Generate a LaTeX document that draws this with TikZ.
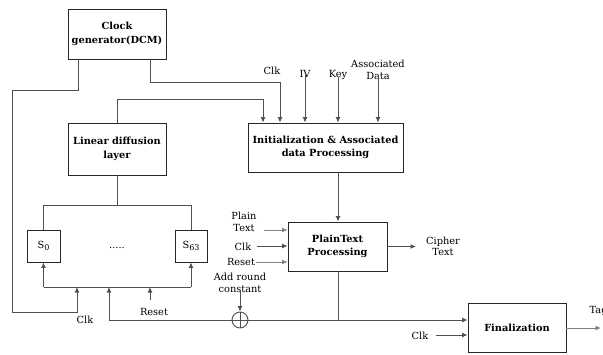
\documentclass[tikz,border=0pt]{standalone}
\usepackage{fontspec}
\setmainfont{DejaVu Serif}
\usetikzlibrary{arrows.meta}
\definecolor{ln}{HTML}{505050}
\definecolor{lt}{HTML}{808080}
\newcommand{\mysub}[1]{\raisebox{-2.2pt}{\fontsize{8}{8}\selectfont #1}}
\tikzset{
  box/.style={draw=black!85, line width=0.9pt, inner sep=0pt, align=center, font=\bfseries\fontsize{9.8}{13.5}\selectfont},
  lbl/.style={inner sep=0pt, align=center, font=\fontsize{9.8}{11.5}\selectfont},
  wire/.style={draw=ln, line width=0.9pt},
  arr/.style={wire, -{Latex[length=5.5pt,width=5pt]}},
  larr/.style={draw=lt, line width=0.9pt, -{Latex[length=5.5pt,width=5pt]}}
}
\begin{document}
\begin{tikzpicture}[x=1pt,y=-1pt]
\useasboundingbox (0,0) rectangle (603,354);
% boxes
\node[box, minimum width=98pt, minimum height=50pt] (clk) at (117,34) {Clock\\generator(DCM)};
\node[box, minimum width=98pt, minimum height=52pt] (ldl) at (117,149) {Linear diffusion\\layer};
\node[box, minimum width=155pt, minimum height=49pt] (init) at (325.5,147.5) {Initialization \& Associated\\data Processing};
\node[box, font=\fontsize{9.8}{12}\selectfont, minimum width=33pt, minimum height=32pt] (s0) at (43.5,246) {S\mysub{0}};
\node[box, font=\fontsize{9.8}{12}\selectfont, minimum width=32pt, minimum height=32pt] (s63) at (191,246) {S\mysub{63}};
\node[lbl] (dots) at (117,248) {.....};
\node[box, minimum width=99pt, minimum height=49pt] (pt) at (337.5,246.5) {PlainText\\Processing};
\node[box, minimum width=98pt, minimum height=49pt] (fin) at (517,327.5) {Finalization};
\node[draw=ln, line width=0.9pt, circle, minimum size=16pt, inner sep=0pt] (xor) at (240,320) {};
\draw[wire] (xor.north) -- (xor.south) (xor.west) -- (xor.east);
% labels
\node[lbl] (clkA) at (272,71) {Clk};
\node[lbl] (iv) at (305,74) {IV};
\node[lbl] (key) at (338,75) {Key};
\node[lbl] (ad) at (378,70) {Associated\\Data};
\node[lbl] (plain) at (244,222) {Plain\\Text};
\node[lbl] (clkB) at (243,247) {Clk};
\node[lbl] (rstB) at (241,262) {Reset};
\node[lbl] (arc) at (240,283) {Add round\\constant};
\node[lbl] (cipher) at (443,246.5) {Cipher\\Text};
\node[lbl] (clkL) at (85,320) {Clk};
\node[lbl] (rstL) at (154,312) {Reset};
\node[lbl] (clkF) at (420,336) {Clk};
\node[lbl, anchor=west] (tag) at (589.5,311) {Tag};
% coordinates
\coordinate (c1) at (78,90);
\coordinate (c2) at (12,90);
\coordinate (c3) at (12,312);
\coordinate (c4) at (77,312);
\coordinate (busL) at (43.5,287);
\coordinate (busR) at (191,287);
\coordinate (busC) at (77,287);
\coordinate (busM) at (109,287);
\coordinate (busN) at (150,287);
\coordinate (rstS) at (150,300);
\coordinate (retS) at (109,320);
\coordinate (top) at (117,205);
\coordinate (topL) at (43.5,205);
\coordinate (topR) at (191,205);
\coordinate (f1) at (150,82);
\coordinate (f2) at (280,82);
\coordinate (g1) at (117,99);
\coordinate (g2) at (263,99);
\coordinate (ptB) at (338,320);
\coordinate (tagE) at (601,328);
% clock generator loops
\draw[arr] (clk.south -| c1) -- (c1) -- (c2) -- (c3) -- (c4) -- (busC);
\draw[arr] (clk.south -| f1) -- (f1) -- (f2) -- (init.north -| f2);
% linear diffusion feedback to init
\draw[arr] (ldl.north) -- (g1) -- (g2) -- (init.north -| g2);
% inputs to init
\draw[arr] ([yshift=3pt]iv.south) -- (init.north -| iv);
\draw[arr] ([yshift=3pt]key.south) -- (init.north -| key);
\draw[arr] ([yshift=3pt]ad.south) -- (init.north -| ad);
% linear layer to S boxes
\draw[wire] (ldl.south) -- (top);
\draw[wire] (topL) -- (topR);
\draw[wire] (topL) -- (s0.north);
\draw[wire] (topR) -- (s63.north);
% bottom bus
\draw[wire] (busL) -- (busR);
\draw[arr] (busL) -- (s0.south);
\draw[arr] (busR) -- (s63.south);
\draw[arr] (rstS) -- (busN);
\draw[arr] (retS) -- (busM);
% return line
\draw[wire] (retS) -- (xor.west);
\draw[arr] (xor.east) -- (fin.west |- xor);
\draw[wire] (pt.south -| ptB) -- (ptB);
\draw[arr] ([yshift=2pt]arc.south) -- (xor.north);
% init to plaintext
\draw[arr] (init.south -| ptB) -- (pt.north -| ptB);
% plaintext inputs
\draw[larr] (264,230) -- (pt.west |- 0,230);
\draw[arr] (257,246) -- (pt.west |- 0,246);
\draw[larr] (256,262) -- (pt.west |- 0,262);
% outputs
\draw[arr] (pt.east |- 0,246.5) -- (416,246.5);
\draw[arr] (436,335) -- (fin.west |- 0,335);
\draw[larr] (fin.east |- tagE) -- (tagE);
\end{tikzpicture}
\end{document}
